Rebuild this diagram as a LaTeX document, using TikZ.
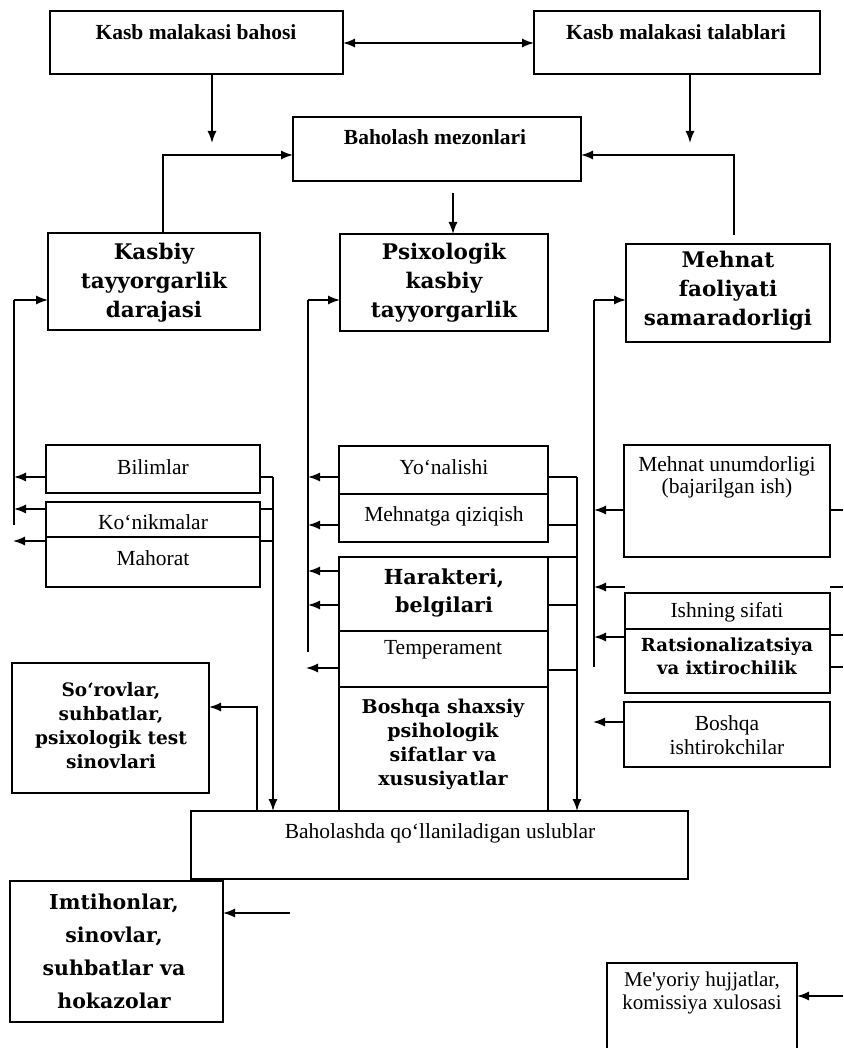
\documentclass[tikz,border=0pt]{standalone}
\usepackage{fontspec}
\setmainfont{Liberation Serif}
\newfontfamily\slabfont{DejaVu Serif}
\usetikzlibrary{arrows.meta}
% font presets
\newcommand\fHead{\bfseries\fontsize{21.5}{25}\selectfont}
\newcommand\fSlab{\slabfont\bfseries\fontsize{21.5}{29}\selectfont}
\newcommand\fPlain{\fontsize{21.5}{22}\selectfont}
% rectangle given by its corners (x1,y1) (x2,y2), y growing downwards
\newcommand\bx[5]{\node[boxst, minimum width={#4-#2}, minimum height={#5-#3}] (#1) at (#2,#3) {};}
\begin{document}
\begin{tikzpicture}[x=1pt,y=-1pt,
  boxst/.style={draw, line width=1.5pt, anchor=north west, inner sep=0pt, outer sep=0pt},
  ln/.style={line width=1.5pt},
  tip/.tip={Latex[length=12pt,width=9pt]},
  arr/.style={line width=1.5pt, -tip},
  lbl/.style={align=center, inner sep=0pt}]
\fill[white] (0,0) rectangle (843,1048);
\useasboundingbox (0,0) rectangle (843,1048);

% ---------- boxes ----------
\bx{A}{50}{11}{343}{74}
\bx{B}{534}{11}{820}{74}
\bx{C}{293}{117}{581}{181}
\bx{D}{48}{233}{260}{330}
\bx{E}{340}{234}{548}{331}
\bx{F}{626}{244}{830}{342}
\bx{Bil}{46}{445}{260}{493}
\bx{KM}{46}{502}{260}{587}
\bx{YM}{339}{446}{548}{542}
\bx{HB}{339}{557}{548}{811}
\bx{MU}{624}{445}{830}{557}
\bx{IR}{625}{593}{830}{693}
\bx{BI}{624}{702}{830}{767}
\bx{S}{12}{663}{209}{793}
\bx{U}{191}{811}{688}{879}
\bx{I}{10}{881}{223}{1022}
\bx{M}{607}{963}{797}{1070}

% dividers of the stacked boxes
\coordinate (dK) at (0,537);
\coordinate (dY) at (0,494);
\coordinate (dH1) at (0,631);
\coordinate (dH2) at (0,687);
\coordinate (dI) at (0,629);
\draw[ln] (KM.west |- dK) -- (KM.east |- dK);
\draw[ln] (YM.west |- dY) -- (YM.east |- dY);
\draw[ln] (HB.west |- dH1) -- (HB.east |- dH1);
\draw[ln] (HB.west |- dH2) -- (HB.east |- dH2);
\draw[ln] (IR.west |- dI) -- (IR.east |- dI);

% ---------- texts ----------
\node[lbl, font=\fHead] (tA) at (196,32) {Kasb malakasi bahosi};
\node[lbl, font=\fHead] (tB) at (676,32) {Kasb malakasi talablari};
\node[lbl, font=\fHead] (tC) at (435,137) {Baholash mezonlari};
\node[lbl, font=\fSlab] (tD) at (154,283) {Kasbiy\\tayyorgarlik\\darajasi};
\node[lbl, font=\fSlab] (tE) at (444,283) {Psixologik\\kasbiy\\tayyorgarlik};
\node[lbl, font=\fSlab] (tF) at (728,291) {Mehnat\\faoliyati\\samaradorligi};
\node[lbl, font=\fPlain] (tBil) at (153,467) {Bilimlar};
\node[lbl, font=\fPlain] (tKo) at (153,522) {Ko‘nikmalar};
\node[lbl, font=\fPlain] (tMa) at (153,558) {Mahorat};
\node[lbl, font=\fPlain] (tYo) at (444,467) {Yo‘nalishi};
\node[lbl, font=\fPlain] (tMq) at (444,516) {Mehnatga qiziqish};
\node[lbl, font=\slabfont\bfseries\fontsize{20.7}{28}\selectfont] (tHa) at (444,593) {Harakteri,\\belgilari};
\node[lbl, font=\fPlain] (tTe) at (443,650) {Temperament};
\node[lbl, font=\slabfont\bfseries\fontsize{19}{24}\selectfont] (tBo) at (443,744) {Boshqa shaxsiy\\psihologik\\sifatlar va\\xususiyatlar};
\node[lbl, font=\slabfont\bfseries\fontsize{18.5}{24}\selectfont] (tSo) at (111,726) {So‘rovlar,\\suhbatlar,\\psixologik test\\sinovlari};
\node[lbl, font=\fPlain] (tMu) at (727,477) {Mehnat unumdorligi\\(bajarilgan ish)};
\node[lbl, font=\fPlain] (tIs) at (727,612) {Ishning sifati};
\node[lbl, font=\slabfont\bfseries\fontsize{18}{23}\selectfont] (tRa) at (727,656) {Ratsionalizatsiya\\va ixtirochilik};
\node[lbl, font=\fontsize{21.5}{24}\selectfont] (tBi) at (727,735) {Boshqa\\ishtirokchilar};
\node[lbl, font=\fPlain] (tU) at (440,833) {Baholashda qo‘llaniladigan uslublar};
\node[lbl, font=\slabfont\bfseries\fontsize{20.5}{33}\selectfont] (tI) at (114,951) {Imtihonlar,\\sinovlar,\\suhbatlar va\\hokazolar};
\node[lbl, font=\fontsize{21}{23}\selectfont] (tM) at (702,993) {Me\textquotesingle yoriy hujjatlar,\\komissiya xulosasi};

% ---------- top connectors ----------
\coordinate (ab) at (0,43);
\draw[line width=1.5pt, tip-tip] (A.east |- ab) -- (B.west |- ab);
\coordinate (aD) at (212,143);
\draw[arr] (aD |- A.south) -- (aD);
\coordinate (bD) at (690,143);
\draw[arr] (bD |- B.south) -- (bD);
\coordinate (kL) at (163,155);
\draw[arr] (kL |- D.north) -- (kL) -- (C.west |- kL);
\coordinate (kR) at (734,155);
\coordinate (kRb) at (734,235);
\draw[arr] (kRb) -- (kR) -- (C.east |- kR);
\coordinate (cM) at (453,193);
\draw[arr] (cM) -- (cM |- E.north);

% ---------- left column bus ----------
\coordinate (lb0) at (14,300);
\coordinate (lbE) at (14,525);
\coordinate (lb1) at (14,477);
\coordinate (lb2) at (14,509);
\coordinate (lb3) at (13,541);
\draw[ln] (lbE) -- (lb0);
\draw[arr] (lb0) -- (D.west |- lb0);
\draw[arr] (Bil.west |- lb1) -- (lb1);
\draw[arr] (KM.west |- lb2) -- (lb2);
\draw[arr] (KM.west |- lb3) -- (lb3);
% to the methods box
\coordinate (u1) at (273,477);
\coordinate (u2) at (273,509);
\coordinate (u3) at (273,541);
\draw[ln] (Bil.east |- u1) -- (u1);
\draw[ln] (KM.east |- u2) -- (u2);
\draw[ln] (KM.east |- u3) -- (u3);
\draw[arr] (u1) -- (u1 |- U.north);
\coordinate (s1) at (257,707);
\draw[arr] (s1 |- U.north) -- (s1) -- (S.east |- s1);

% ---------- middle column bus ----------
\coordinate (m0) at (308,300);
\coordinate (mE) at (308,652);
\coordinate (m1) at (308,477);
\coordinate (m2) at (308,525);
\coordinate (m3) at (308,571);
\coordinate (m4) at (308,605);
\coordinate (m5) at (306,668);
\draw[ln] (mE) -- (m0);
\draw[arr] (m0) -- (E.west |- m0);
\draw[arr] (YM.west |- m1) -- (m1);
\draw[arr] (YM.west |- m2) -- (m2);
\draw[arr] (HB.west |- m3) -- (m3);
\draw[arr] (HB.west |- m4) -- (m4);
\draw[arr] (HB.west |- m5) -- (m5);
% to the methods box
\coordinate (r1) at (577,477);
\coordinate (r2) at (577,525);
\coordinate (r3) at (577,557);
\coordinate (r4) at (577,605);
\coordinate (r5) at (577,670);
\draw[ln] (YM.east |- r1) -- (r1);
\draw[ln] (YM.east |- r2) -- (r2);
\draw[ln] (HB.east |- r3) -- (r3);
\draw[ln] (HB.east |- r4) -- (r4);
\draw[ln] (HB.east |- r5) -- (r5);
\draw[arr] (r1) -- (r1 |- U.north);

% ---------- right column bus ----------
\coordinate (q0) at (594,300);
\coordinate (qE) at (594,667);
\coordinate (q1) at (594,510);
\coordinate (q2) at (594,587);
\coordinate (q3) at (594,637);
\coordinate (q4) at (593,722);
\draw[ln] (qE) -- (q0);
\draw[arr] (q0) -- (F.west |- q0);
\draw[arr] (MU.west |- q1) -- (q1);
\draw[arr] (IR.west |- q2) -- (q2);
\draw[arr] (IR.west |- q3) -- (q3);
\draw[arr] (BI.west |- q4) -- (q4);
% short leads running off to the right
\coordinate (e1) at (843,510);
\coordinate (e2) at (843,587);
\coordinate (e3) at (843,635);
\coordinate (e4) at (843,667);
\draw[ln] (MU.east |- e1) -- (e1);
\draw[ln] (IR.east |- e2) -- (e2);
\draw[ln] (IR.east |- e3) -- (e3);
\draw[ln] (IR.east |- e4) -- (e4);

% ---------- bottom arrows ----------
\coordinate (iA) at (290,913);
\draw[arr] (iA) -- (I.east |- iA);
\coordinate (mA) at (843,996);
\draw[arr] (mA) -- (M.east |- mA);
\end{tikzpicture}
\end{document}
